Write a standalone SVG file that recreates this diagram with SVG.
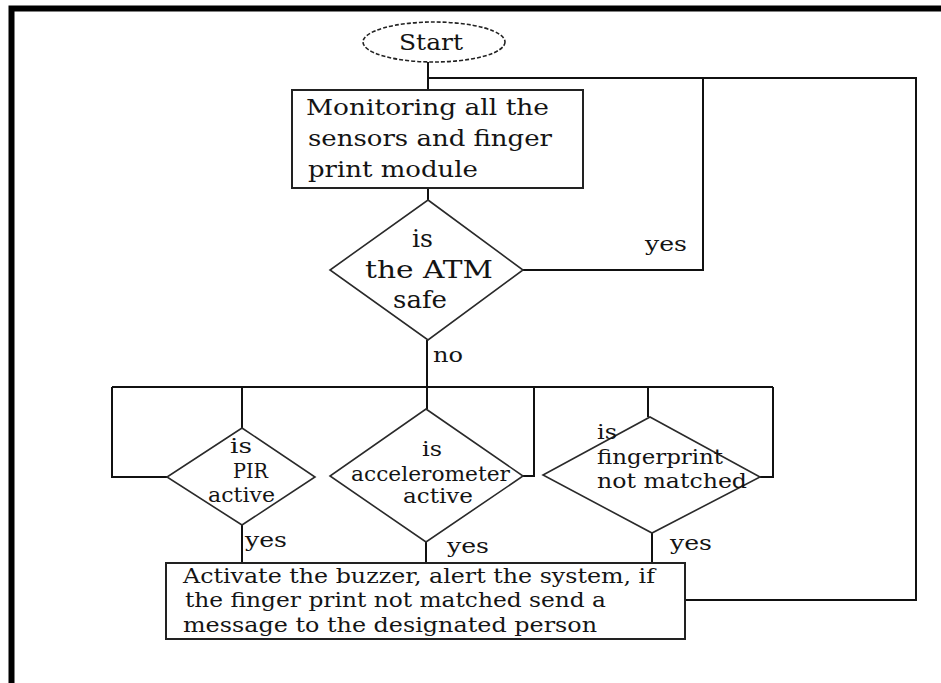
<svg xmlns="http://www.w3.org/2000/svg" width="941" height="683" viewBox="0 0 941 683">
  <style>
    .frame { fill: none; stroke: #000; stroke-width: 6; }
    .box { fill: #fff; stroke: #222; stroke-width: 2; }
    .dia { fill: #fff; stroke: #2a2a2a; stroke-width: 1.6; }
    .term { fill: #fff; stroke: #222; stroke-width: 1.6; stroke-dasharray: 4 2; }
    .wire { fill: none; stroke: #111; stroke-width: 2; }
    .lbl { fill: #141414; font-family: "DejaVu Serif", "Liberation Serif", serif; }
    .t26 { font-size: 24px; }
    .t24 { font-size: 22px; }
    .t22 { font-size: 20px; }
  </style>
  <rect width="941" height="683" fill="#fff"/>
  <!-- page frame -->
  <path class="frame" d="M11.5 683 V8.5 H941"/>

  <!-- connectors -->
  <g id="connectors">
    <path class="wire" d="M428 62 V90"/>
    <path class="wire" d="M428 78 H916 V600 H685"/>
    <path class="wire" d="M703 78 V270 H523"/>
    <path class="wire" d="M428 188 V200"/>
    <path class="wire" d="M427 340 V409"/>
    <path class="wire" d="M112 387 H773"/>
    <path class="wire" d="M112 387 V477 H167"/>
    <path class="wire" d="M242 387 V428"/>
    <path class="wire" d="M523 476 H534 V387"/>
    <path class="wire" d="M648 387 V417"/>
    <path class="wire" d="M760 477 H773 V387"/>
    <path class="wire" d="M242 525 V563"/>
    <path class="wire" d="M426 542 V563"/>
    <path class="wire" d="M652 533 V563"/>
    <text class="lbl t22" x="645" y="251" textLength="42" lengthAdjust="spacingAndGlyphs">yes</text>
    <text class="lbl t22" x="433" y="362" textLength="30" lengthAdjust="spacingAndGlyphs">no</text>
    <text class="lbl t22" x="245" y="547" textLength="42" lengthAdjust="spacingAndGlyphs">yes</text>
    <text class="lbl t22" x="447" y="553" textLength="42" lengthAdjust="spacingAndGlyphs">yes</text>
    <text class="lbl t22" x="670" y="550" textLength="42" lengthAdjust="spacingAndGlyphs">yes</text>
  </g>

  <g id="start">
    <ellipse class="term" cx="434" cy="42" rx="71" ry="20"/>
    <text class="lbl t24" x="399" y="50" textLength="64" lengthAdjust="spacingAndGlyphs">Start</text>
  </g>

  <g id="monitor">
    <rect class="box" x="292" y="90" width="291" height="98"/>
    <text class="lbl t24" x="306" y="115" textLength="243" lengthAdjust="spacingAndGlyphs">Monitoring all the</text>
    <text class="lbl t24" x="308" y="146" textLength="244" lengthAdjust="spacingAndGlyphs">sensors and finger</text>
    <text class="lbl t24" x="308" y="177" textLength="170" lengthAdjust="spacingAndGlyphs">print module</text>
  </g>

  <g id="atm-safe">
    <polygon class="dia" points="428,200 523,270 428,340 330,270"/>
    <text class="lbl t26" x="412" y="247" textLength="21" lengthAdjust="spacingAndGlyphs">is</text>
    <text class="lbl t26" x="365" y="278" textLength="128" lengthAdjust="spacingAndGlyphs">the ATM</text>
    <text class="lbl t26" x="393" y="308" textLength="54" lengthAdjust="spacingAndGlyphs">safe</text>
  </g>

  <g id="pir">
    <polygon class="dia" points="242,428 315,477 242,525 167,477"/>
    <text class="lbl t22" x="230" y="453" textLength="22" lengthAdjust="spacingAndGlyphs">is</text>
    <text class="lbl t22" x="233" y="478" textLength="35" lengthAdjust="spacingAndGlyphs">PIR</text>
    <text class="lbl t22" x="208" y="502" textLength="67" lengthAdjust="spacingAndGlyphs">active</text>
  </g>

  <g id="accelerometer">
    <polygon class="dia" points="426,409 523,476 426,542 330,476"/>
    <text class="lbl t22" x="422" y="456" textLength="20" lengthAdjust="spacingAndGlyphs">is</text>
    <text class="lbl t22" x="351" y="481" textLength="159" lengthAdjust="spacingAndGlyphs">accelerometer</text>
    <text class="lbl t22" x="403" y="503" textLength="70" lengthAdjust="spacingAndGlyphs">active</text>
  </g>

  <g id="fingerprint">
    <polygon class="dia" points="650,417 760,477 652,533 543,475"/>
    <text class="lbl t22" x="597" y="439" textLength="20" lengthAdjust="spacingAndGlyphs">is</text>
    <text class="lbl t22" x="597" y="464" textLength="126" lengthAdjust="spacingAndGlyphs">fingerprint</text>
    <text class="lbl t22" x="597" y="488" textLength="150" lengthAdjust="spacingAndGlyphs">not matched</text>
  </g>

  <g id="alert">
    <rect class="box" x="166" y="563" width="519" height="76"/>
    <text class="lbl t22" x="183" y="583" textLength="472" lengthAdjust="spacingAndGlyphs">Activate the buzzer, alert the system, if</text>
    <text class="lbl t22" x="185" y="607" textLength="421" lengthAdjust="spacingAndGlyphs">the finger print not matched send a</text>
    <text class="lbl t22" x="183" y="632" textLength="414" lengthAdjust="spacingAndGlyphs">message to the designated person</text>
  </g>
</svg>
